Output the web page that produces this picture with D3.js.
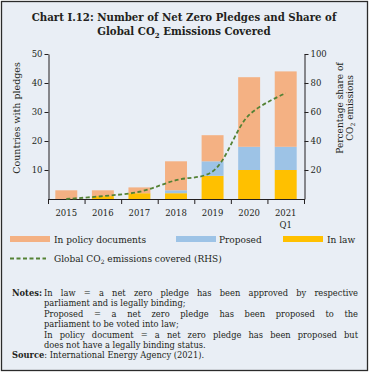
<!DOCTYPE html>
<html>
<head>
<meta charset="utf-8">
<script src="https://cdn.jsdelivr.net/npm/d3@7"></script>
<style>
  body { margin: 0; background: #fff; }
  svg text { font-family: "DejaVu Serif", serif; fill: #231f20; }
</style>
</head>
<body>
<svg id="chart" width="371" height="373"></svg>
<script>
const years = ["2015", "2016", "2017", "2018", "2019", "2020", "2021"];
const inLaw = [0, 1, 2, 2, 8, 10, 10];
const proposed = [0, 0, 0, 1, 5, 8, 8];
const inPolicy = [3, 2, 2, 10, 9, 24, 26];
const co2Share = [0, 2, 5, 13, 19, 58, 73];
const leftTicks = [10, 20, 30, 40, 50];
const rightTicks = [20, 40, 60, 80, 100];

const colors = { policy: "#f4b183", proposed: "#9dc3e6", law: "#ffc000", line: "#548235" };

const svg = d3.select("#chart");

svg.append("rect")
  .attr("x", 1.5).attr("y", 1.5).attr("width", 366).attr("height", 369)
  .attr("fill", "#e9eef5").attr("stroke", "#2b2b2b").attr("stroke-width", 1.3);

// title
const title = svg.append("g").style("font-weight", "bold").style("font-size", "10.2px");
title.append("text").attr("x", 184).attr("y", 21).attr("text-anchor", "middle")
  .text("Chart I.12: Number of Net Zero Pledges and Share of");
const t2 = title.append("text").attr("x", 184).attr("y", 35).attr("text-anchor", "middle");
t2.append("tspan").text("Global CO");
t2.append("tspan").attr("dy", 2.5).style("font-size", "7px").text("2");
t2.append("tspan").attr("dy", -2.5).text(" Emissions Covered");

// scales
const x = d3.scaleBand().domain(years).range([48, 304]).paddingInner(0.4).paddingOuter(0.2);
const y = d3.scaleLinear().domain([0, 50]).range([199, 54]);
const y2 = d3.scaleLinear().domain([0, 100]).range([199, 54]);

const stackData = years.map((yr, i) => ({ year: yr, law: inLaw[i], proposed: proposed[i], policy: inPolicy[i] }));
const series = d3.stack().keys(["law", "proposed", "policy"])(stackData);

svg.append("g").selectAll("g")
  .data(series)
  .join("g")
  .attr("fill", (d) => colors[d.key])
  .selectAll("rect")
  .data((d) => d)
  .join("rect")
  .attr("x", (d) => x(d.data.year))
  .attr("width", x.bandwidth())
  .attr("y", (d) => y(d[1]))
  .attr("height", (d) => y(d[0]) - y(d[1]));

// axes
const axisStyle = (g) => {
  g.select(".domain").attr("stroke", "#231f20");
  g.selectAll(".tick line").attr("stroke", "#231f20");
  g.selectAll(".tick text").style("font-size", "8.5px").attr("fill", "#231f20");
};

svg.append("g").attr("transform", "translate(48.5,0)")
  .call(d3.axisLeft(y).tickValues(leftTicks).tickSize(4).tickSizeOuter(0).tickPadding(2))
  .call(axisStyle);

svg.append("g").attr("transform", "translate(304.5,0)")
  .call(d3.axisRight(y2).tickValues(rightTicks).tickSize(4).tickSizeOuter(0).tickPadding(2))
  .call(axisStyle);

// x axis, ticks between the bands
const xg = svg.append("g");
xg.append("line").attr("x1", 48).attr("x2", 305).attr("y1", 199.5).attr("y2", 199.5).attr("stroke", "#231f20");
xg.selectAll("line.tk")
  .data(d3.range(years.length + 1))
  .join("line")
  .attr("class", "tk")
  .attr("x1", (i) => x.range()[0] + i * x.step() + 0.5)
  .attr("x2", (i) => x.range()[0] + i * x.step() + 0.5)
  .attr("y1", 199).attr("y2", 204)
  .attr("stroke", "#231f20");
xg.selectAll("text.yr")
  .data(years)
  .join("text")
  .attr("class", "yr")
  .attr("x", (d) => x(d) + x.bandwidth() / 2)
  .attr("y", 216)
  .attr("text-anchor", "middle")
  .style("font-size", "8.5px")
  .text((d) => d);
xg.append("text")
  .attr("x", x("2021") + x.bandwidth() / 2).attr("y", 228)
  .attr("text-anchor", "middle").style("font-size", "8.5px").text("Q1");

// line (RHS)
const line = d3.line()
  .x((d, i) => x(years[i]) + x.bandwidth() / 2)
  .y((d) => y2(d))
  .curve(d3.curveCatmullRom);
svg.append("path")
  .datum(co2Share)
  .attr("d", line)
  .attr("fill", "none")
  .attr("stroke", colors.line)
  .attr("stroke-width", 1.8)
  .attr("stroke-dasharray", "4,2.5");

// axis titles
svg.append("text")
  .attr("transform", "translate(20,118) rotate(-90)")
  .attr("text-anchor", "middle").style("font-size", "9.5px")
  .text("Countries with pledges");
const rt = svg.append("g").attr("transform", "translate(343,108) rotate(-90)").style("font-size", "9px");
rt.append("text").attr("text-anchor", "middle").attr("y", 0).text("Percentage share of");
const rt2 = rt.append("text").attr("text-anchor", "middle").attr("y", 10);
rt2.append("tspan").text("CO");
rt2.append("tspan").attr("dy", 2).style("font-size", "6px").text("2");
rt2.append("tspan").attr("dy", -2).text(" emissions");

// legend
const legendItems = [
  { label: "In policy documents", color: colors.policy, x: 10, text: 54 },
  { label: "Proposed", color: colors.proposed, x: 176, text: 219 },
  { label: "In law", color: colors.law, x: 283, text: 327 },
];
const lg = svg.append("g").style("font-size", "9px");
legendItems.forEach((it) => {
  lg.append("rect").attr("x", it.x).attr("y", 236).attr("width", 40).attr("height", 6).attr("fill", it.color);
  lg.append("text").attr("x", it.text).attr("y", 242.5).text(it.label);
});
lg.append("line").attr("x1", 10).attr("x2", 46).attr("y1", 258.5).attr("y2", 258.5)
  .attr("stroke", colors.line).attr("stroke-width", 1.8).attr("stroke-dasharray", "4,2.5");
const lt = lg.append("text").attr("x", 54).attr("y", 261.5);
lt.append("tspan").text("Global CO");
lt.append("tspan").attr("dy", 2).style("font-size", "6px").text("2");
lt.append("tspan").attr("dy", -2).text(" emissions covered (RHS)");

// notes
const notes = svg.append("g").style("font-size", "8.3px");
const noteTop = 296, lineGap = 10.4;
notes.append("text").attr("x", 12).attr("y", noteTop).style("font-weight", "bold").text("Notes:");
const noteLines = [
  { t: "In law = a net zero pledge has been approved by respective", j: true },
  { t: "parliament and is legally binding;", j: false },
  { t: "Proposed = a net zero pledge has been proposed to the", j: true },
  { t: "parliament to be voted into law;", j: false },
  { t: "In policy document = a net zero pledge has been proposed but", j: true },
  { t: "does not have a legally binding status.", j: false },
];
const left = 44, right = 358;
noteLines.forEach((ln, k) => {
  const yy = noteTop + k * lineGap;
  if (!ln.j) {
    notes.append("text").attr("x", left).attr("y", yy).text(ln.t);
    return;
  }
  const words = ln.t.split(" ");
  const widths = words.map((w) => {
    const tmp = notes.append("text").text(w);
    const wd = tmp.node().getComputedTextLength();
    tmp.remove();
    return wd;
  });
  const gap = (right - left - d3.sum(widths)) / (words.length - 1);
  let cx = left;
  words.forEach((w, i) => {
    notes.append("text").attr("x", cx).attr("y", yy).text(w);
    cx += widths[i] + gap;
  });
});
const src = notes.append("text").attr("x", 12).attr("y", noteTop + 6 * lineGap);
src.append("tspan").style("font-weight", "bold").text("Source");
src.append("tspan").text(": International Energy Agency (2021).");
</script>
</body>
</html>
